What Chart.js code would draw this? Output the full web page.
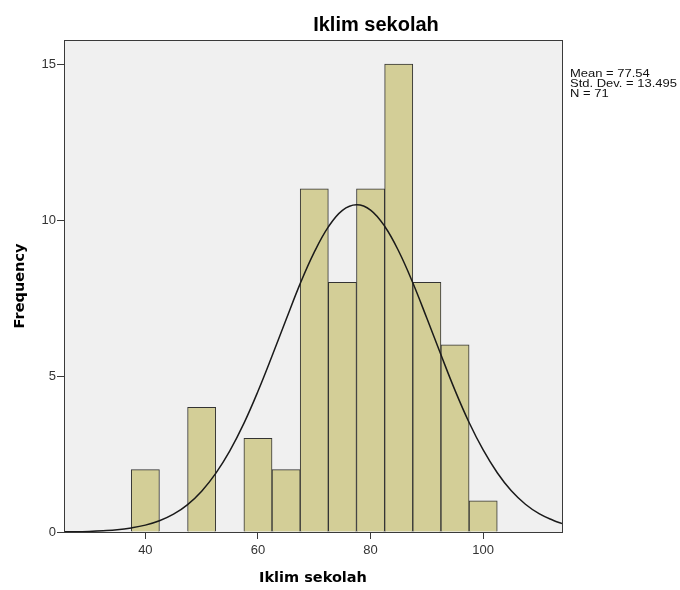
<!DOCTYPE html>
<html>
<head>
<meta charset="utf-8">
<script src="https://cdn.jsdelivr.net/npm/chart.js@4"></script>
<style>
  html, body { margin: 0; padding: 0; background: #fff; }
  #wrap { width: 680px; height: 590px; }
</style>
</head>
<body>
<div id="wrap"><canvas id="hist" width="680" height="590"></canvas></div>
<script>
// ---------- Data ----------
const binCenters = [40, 50, 60, 65, 70, 75, 80, 85, 90, 95, 100];
const frequencies = [2, 4, 3, 2, 11, 8, 11, 15, 8, 6, 1];

// normal curve
const curveX = [25.5, 27.5, 30, 32.5, 35, 37.5, 40, 42.5, 45, 47.5, 50, 52.5, 55, 57.5, 60, 62.5, 65, 67.5, 70, 72.5, 75, 77.5,
  80, 82.5, 85, 87.5, 90, 92.5, 95, 97.5, 100, 102.5, 105, 107.5, 110, 112.5, 114];
const curveY = [0.01, 0.01, 0.02, 0.04, 0.07, 0.13, 0.22, 0.36, 0.57, 0.88, 1.31, 1.88, 2.6, 3.48, 4.51, 5.64, 6.81, 7.96, 8.97, 9.78, 10.31, 10.49,
  10.32, 9.8, 9.0, 7.99, 6.85, 5.68, 4.54, 3.51, 2.63, 1.9, 1.32, 0.89, 0.58, 0.37, 0.27];

const xTicks = [40, 60, 80, 100];
const yTicks = [0, 5, 10, 15];
const statsLines = ['Mean = 77.54', 'Std. Dev. = 13.495', 'N = 71'];
const chartTitle = 'Iklim sekolah';

// ---------- Decorations ----------
const frame = {
    id: 'frame',
    beforeDatasetsDraw(chart) {
        const a = chart.chartArea, ctx = chart.ctx;
        ctx.save();
        ctx.fillStyle = '#f0f0f0';
        ctx.fillRect(a.left, a.top, a.right - a.left, a.bottom - a.top);
        ctx.restore();
    },
    afterDraw(chart) {
        const a = chart.chartArea, ctx = chart.ctx;
        ctx.save();
        ctx.strokeStyle = '#3a3a3a';
        ctx.lineWidth = 1;
        ctx.strokeRect(a.left + 0.5, a.top + 0.5, a.right - a.left, a.bottom - a.top);

        ctx.fillStyle = '#000';
        ctx.font = 'bold 20px "Liberation Sans", Arial, sans-serif';
        ctx.textAlign = 'center';
        ctx.textBaseline = 'middle';
        ctx.fillText(chartTitle, 376, 25);

        // stats box text is drawn slightly wide, like the SPSS output
        ctx.font = '11px "Liberation Sans", Arial, sans-serif';
        ctx.textAlign = 'left';
        ctx.fillStyle = '#111';
        ctx.translate(570, 0);
        ctx.scale(1.18, 1);
        statsLines.forEach((t, i) => ctx.fillText(t, 0, 74 + i * 10));
        ctx.restore();
    }
};

const tickFont = { family: '"Liberation Sans", Arial, sans-serif', size: 13 };
const titleFont = { family: '"DejaVu Sans", sans-serif', size: 14.5, weight: 'bold' };

new Chart(document.getElementById('hist'), {
    type: 'bar',
    data: {
        datasets: [
            {
                type: 'line',
                data: curveX.map((x, i) => ({ x: x, y: curveY[i] })),
                borderColor: '#1a1a1a',
                borderWidth: 1.5,
                pointRadius: 0,
                tension: 0.4,
                fill: false,
                order: 0
            },
            {
                type: 'bar',
                data: binCenters.map((x, i) => ({ x: x, y: frequencies[i] })),
                backgroundColor: '#d3ce97',
                borderColor: '#333',
                borderWidth: 1,
                barPercentage: 1,
                categoryPercentage: 1,
                order: 1
            }
        ]
    },
    options: {
        responsive: false,
        animation: false,
        layout: { padding: { left: 0, top: 40, right: 118, bottom: 0 } },
        plugins: { legend: { display: false }, tooltip: { enabled: false } },
        scales: {
            x: {
                type: 'linear',
                min: 25.55,
                max: 114,
                offset: false,
                afterBuildTicks: s => { s.ticks = xTicks.map(v => ({ value: v })); },
                afterFit: s => { s.height = 58; },
                grid: { offset: false, drawOnChartArea: false, drawTicks: true, tickLength: 7, color: '#3a3a3a' },
                border: { display: true, color: '#3a3a3a' },
                ticks: { font: tickFont, color: '#333', padding: 4, maxRotation: 0 },
                title: { display: true, text: 'Iklim sekolah', font: titleFont, color: '#000', padding: { top: 0, bottom: 3 } }
            },
            y: {
                min: 0,
                max: 15.77,
                afterBuildTicks: s => { s.ticks = yTicks.map(v => ({ value: v })); },
                afterFit: s => { s.width = 64; },
                grid: { drawOnChartArea: false, drawTicks: true, tickLength: 7, color: '#3a3a3a' },
                border: { display: true, color: '#3a3a3a' },
                ticks: { font: tickFont, color: '#333', padding: 1 },
                title: { display: true, text: 'Frequency', font: titleFont, color: '#000', padding: { top: 12, bottom: 0 } }
            }
        }
    },
    plugins: [frame]
});
</script>
</body>
</html>
